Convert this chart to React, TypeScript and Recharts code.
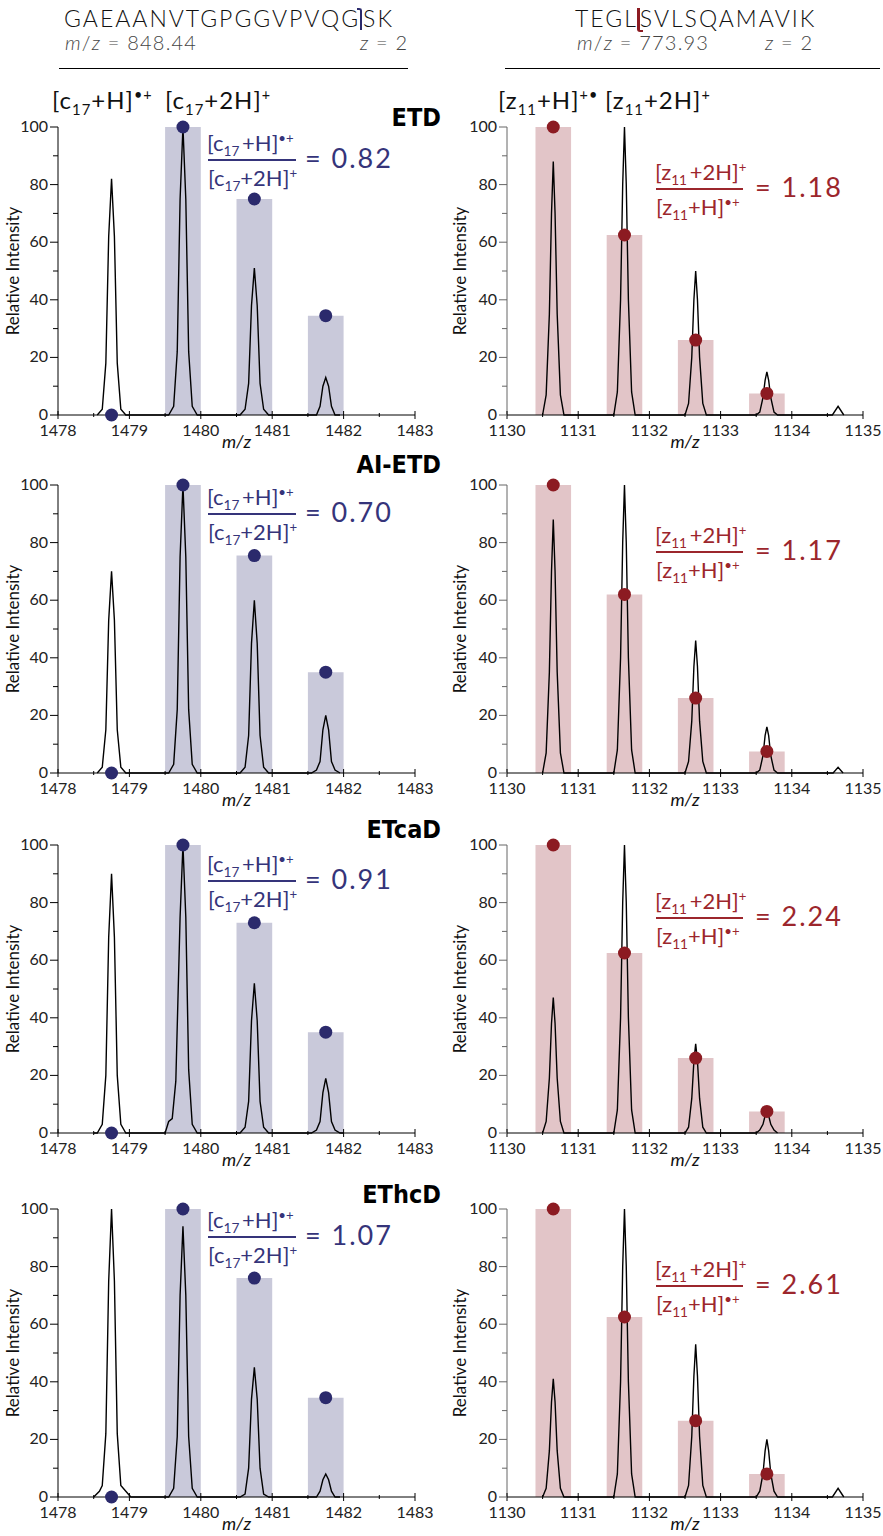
import React from 'react';
import { ComposedChart, Line, Scatter, XAxis, YAxis, ReferenceArea, Label } from 'recharts';

type Pt = [number, number];

const FONT = 'Lato, "Noto Sans", sans-serif';
const NAVY = '#2b2a6c';
const NAVY_TXT = '#35347a';
const RED = '#8c1b22';
const RED_TXT = '#9c262c';
const C_BAR = '#c9c9da';
const Z_BAR = '#e2c5c8';
const BAR_HALF = 0.25;

const METHODS = ['ETD', 'AI-ETD', 'ETcaD', 'EThcD'];
const C_RATIOS = ['0.82', '0.70', '0.91', '1.07'];
const Z_RATIOS = ['1.18', '1.17', '2.24', '2.61'];

const C_X_TICKS = [1478, 1478.5, 1479, 1479.5, 1480, 1480.5, 1481, 1481.5, 1482, 1482.5, 1483];
const Z_X_TICKS = [1130, 1130.5, 1131, 1131.5, 1132, 1132.5, 1133, 1133.5, 1134, 1134.5, 1135];
const Y_TICKS = [0, 10, 20, 30, 40, 50, 60, 70, 80, 90, 100];

const C_CENTERS = [1478.75, 1479.75, 1480.75, 1481.75];
const Z_CENTERS = [1130.65, 1131.65, 1132.65, 1133.65];

// theoretical isotope distributions (bars + dots)
const cTheoETD = [0, 100, 75, 34.5];
const cTheoAI = [0, 100, 75.5, 35];
const cTheoETcaD = [0, 100, 73, 35];
const cTheoEThcD = [0, 100, 76, 34.5];
const zTheoETD = [100, 62.5, 26, 7.5];
const zTheoAI = [100, 62, 26, 7.5];
const zTheoETcaD = [100, 62.5, 26, 7.5];
const zTheoEThcD = [100, 62.5, 26.5, 8];

// observed spectra (m/z, relative intensity)
const cSpecETD: Pt[] = [
  [1478.55, 0], [1478.62, 2], [1478.67, 18], [1478.71, 62], [1478.75, 82], [1478.79, 62], [1478.83, 18], [1478.88, 2], [1478.95, 0],
  [1479.55, 0], [1479.62, 3], [1479.67, 22], [1479.71, 75], [1479.75, 100], [1479.79, 75], [1479.83, 22], [1479.88, 3], [1479.95, 0],
  [1480.55, 0], [1480.62, 2], [1480.67, 11], [1480.71, 38], [1480.75, 51], [1480.79, 38], [1480.83, 11], [1480.88, 2], [1480.95, 0],
  [1481.55, 0], [1481.62, 0], [1481.67, 3], [1481.71, 10], [1481.75, 13], [1481.79, 10], [1481.83, 3], [1481.88, 0], [1481.95, 0],
];
const cSpecAI: Pt[] = [
  [1478.55, 0], [1478.62, 2], [1478.67, 15], [1478.71, 53], [1478.75, 70], [1478.79, 53], [1478.83, 15], [1478.88, 2], [1478.95, 0],
  [1479.55, 0], [1479.62, 3], [1479.67, 22], [1479.71, 75], [1479.75, 100], [1479.79, 75], [1479.83, 22], [1479.88, 3], [1479.95, 0],
  [1480.55, 0], [1480.62, 2], [1480.67, 13], [1480.71, 45], [1480.75, 60], [1480.79, 45], [1480.83, 13], [1480.88, 2], [1480.95, 0],
  [1481.55, 0], [1481.62, 1], [1481.67, 4], [1481.71, 15], [1481.75, 20], [1481.79, 15], [1481.83, 4], [1481.88, 1], [1481.95, 0],
];
const cSpecETcaD: Pt[] = [
  [1478.5, 0],
  [1478.55, 0], [1478.62, 3], [1478.67, 20], [1478.71, 68], [1478.75, 90], [1478.79, 68], [1478.83, 20], [1478.88, 3], [1478.95, 0],
  [1479.5, 0], [1479.55, 4], [1479.6, 5], [1479.65, 18], [1479.71, 75], [1479.75, 100], [1479.79, 75], [1479.83, 22], [1479.88, 3], [1479.95, 0],
  [1480.55, 0], [1480.62, 2], [1480.67, 11], [1480.71, 39], [1480.75, 52], [1480.79, 39], [1480.83, 11], [1480.88, 2], [1480.95, 0],
  [1481.55, 0], [1481.62, 1], [1481.67, 4], [1481.71, 14], [1481.75, 19], [1481.79, 14], [1481.83, 4], [1481.88, 1], [1481.95, 0],
  [1482.0, 0],
];
const cSpecEThcD: Pt[] = [
  [1478.5, 0], [1478.58, 2], [1478.62, 4], [1478.67, 22], [1478.71, 75], [1478.75, 100], [1478.79, 75], [1478.83, 22], [1478.88, 4], [1478.95, 2], [1479.02, 0],
  [1479.55, 0], [1479.62, 3], [1479.67, 21], [1479.71, 70], [1479.75, 94], [1479.79, 70], [1479.83, 21], [1479.88, 3], [1479.95, 0],
  [1480.55, 0], [1480.62, 1], [1480.67, 10], [1480.71, 34], [1480.75, 45], [1480.79, 34], [1480.83, 10], [1480.88, 1], [1480.95, 0],
  [1481.55, 0], [1481.62, 0], [1481.67, 2], [1481.71, 6], [1481.75, 8], [1481.79, 6], [1481.83, 2], [1481.88, 0], [1481.95, 0],
];

const zSpecETD: Pt[] = [
  [1130.5, 0], [1130.55, 7], [1130.595, 35], [1130.625, 70], [1130.65, 88], [1130.675, 70], [1130.705, 35], [1130.75, 7], [1130.8, 0],
  [1131.5, 0], [1131.55, 8], [1131.595, 40], [1131.625, 80], [1131.65, 100], [1131.675, 80], [1131.705, 40], [1131.75, 8], [1131.8, 0],
  [1132.5, 0], [1132.55, 4], [1132.595, 20], [1132.625, 40], [1132.65, 50], [1132.675, 40], [1132.705, 20], [1132.75, 4], [1132.8, 0],
  [1133.5, 0], [1133.55, 1], [1133.595, 6], [1133.625, 12], [1133.65, 15], [1133.675, 12], [1133.705, 6], [1133.75, 1], [1133.8, 0],
  [1134.57, 0], [1134.65, 3], [1134.73, 0],
];
const zSpecAI: Pt[] = [
  [1130.5, 0], [1130.55, 7], [1130.595, 35], [1130.625, 70], [1130.65, 88], [1130.675, 70], [1130.705, 35], [1130.75, 7], [1130.8, 0],
  [1131.5, 0], [1131.55, 8], [1131.595, 40], [1131.625, 80], [1131.65, 100], [1131.675, 80], [1131.705, 40], [1131.75, 8], [1131.8, 0],
  [1132.5, 0], [1132.55, 4], [1132.595, 18], [1132.625, 37], [1132.65, 46], [1132.675, 37], [1132.705, 18], [1132.75, 4], [1132.8, 0],
  [1133.5, 0], [1133.55, 1], [1133.595, 6], [1133.625, 13], [1133.65, 16], [1133.675, 13], [1133.705, 6], [1133.75, 1], [1133.8, 0],
  [1134.58, 0], [1134.65, 2], [1134.72, 0],
];
const zSpecETcaD: Pt[] = [
  [1130.5, 0], [1130.55, 4], [1130.595, 19], [1130.625, 38], [1130.65, 47], [1130.675, 38], [1130.705, 19], [1130.75, 4], [1130.8, 0],
  [1131.5, 0], [1131.55, 8], [1131.595, 40], [1131.625, 80], [1131.65, 100], [1131.675, 80], [1131.705, 40], [1131.75, 8], [1131.8, 0],
  [1132.5, 0], [1132.55, 2], [1132.595, 12], [1132.625, 25], [1132.65, 31], [1132.675, 25], [1132.705, 12], [1132.75, 2], [1132.8, 0],
  [1133.5, 0], [1133.55, 1], [1133.595, 3], [1133.625, 6], [1133.65, 8], [1133.675, 6], [1133.705, 3], [1133.75, 1], [1133.8, 0],
];
const zSpecEThcD: Pt[] = [
  [1130.5, 0], [1130.55, 3], [1130.595, 16], [1130.625, 33], [1130.65, 41], [1130.675, 33], [1130.705, 16], [1130.75, 3], [1130.8, 0],
  [1131.5, 0], [1131.55, 8], [1131.595, 40], [1131.625, 80], [1131.65, 100], [1131.675, 80], [1131.705, 40], [1131.75, 8], [1131.8, 0],
  [1132.5, 0], [1132.55, 4], [1132.595, 21], [1132.625, 42], [1132.65, 53], [1132.675, 42], [1132.705, 21], [1132.75, 4], [1132.8, 0],
  [1133.5, 0], [1133.55, 2], [1133.595, 8], [1133.625, 16], [1133.65, 20], [1133.675, 16], [1133.705, 8], [1133.75, 2], [1133.8, 0],
  [1134.57, 0], [1134.65, 3], [1134.73, 0],
];

const C_SPECTRA = [cSpecETD, cSpecAI, cSpecETcaD, cSpecEThcD];
const Z_SPECTRA = [zSpecETD, zSpecAI, zSpecETcaD, zSpecEThcD];
const C_THEO = [cTheoETD, cTheoAI, cTheoETcaD, cTheoEThcD];
const Z_THEO = [zTheoETD, zTheoAI, zTheoETcaD, zTheoEThcD];

// layout (pixel y of the 100% gridline in each row)
const ROW_TOP = [127, 485, 845, 1209];
const PLOT_H = 288;
const X_AXIS_H = 38;
const TITLE_Y = [118, 465, 830, 1195];
const C_FRAC_Y = [160, 514, 881, 1237];
const Z_FRAC_Y = [189, 552, 918, 1286];

const Sub = ({ children }: any) => (
  <span style={{ fontSize: '0.62em', position: 'relative', top: '0.38em' }}>{children}</span>
);
const Sup = ({ children }: any) => (
  <span style={{ fontSize: '0.6em', position: 'relative', top: '-0.6em' }}>{children}</span>
);
const Ion = ({ letter, num, add, charge, gap }: any) => (
  <span>
    [{letter}
    <Sub>{num}</Sub>
    {gap ? '\u2009' : ''}
    {add}]<Sup>{charge}</Sup>
  </span>
);

const XTick = (props: any) => {
  const { x, y, payload } = props;
  const v = payload.value;
  const major = Number.isInteger(v);
  return (
    <g>
      <line x1={x} x2={x} y1={y - (major ? 4 : 2)} y2={y + (major ? 4 : 2)} stroke="#000" strokeWidth={1} />
      {major && (
        <text x={x} y={y + 21} textAnchor="middle" fontSize={16} fill="#222" fontFamily={FONT}>
          {v}
        </text>
      )}
    </g>
  );
};

const makeYTick = (stroke: string) => (props: any) => {
  const { x, y, payload } = props;
  const v = payload.value;
  const major = v % 20 === 0;
  return (
    <g>
      <line x1={x - (major ? 8 : 5)} x2={x} y1={y} y2={y} stroke={stroke} strokeWidth={1} />
      {major && (
        <text x={x - 10} y={y + 5} textAnchor="end" fontSize={16} fill="#222" fontFamily={FONT}>
          {v}
        </text>
      )}
    </g>
  );
};

function Panel({ side, row }: { side: 'c' | 'z'; row: number }) {
  const isC = side === 'c';
  const centers = isC ? C_CENTERS : Z_CENTERS;
  const theo = isC ? C_THEO[row] : Z_THEO[row];
  const spectrum = isC ? C_SPECTRA[row] : Z_SPECTRA[row];
  const dotColor = isC ? NAVY : RED;
  const barFill = isC ? C_BAR : Z_BAR;
  const yW = isC ? 58 : 67;
  const width = isC ? 437 : 445;
  const yStroke = isC ? '#000' : '#666';
  const lineData = spectrum.map(([x, y]) => ({ x, y }));
  const dots = centers.map((x, i) => ({ x, y: theo[i] }));
  const labelOffsetX = isC ? 12 : 19;
  return (
    <div style={{ position: 'absolute', left: isC ? 0 : 440, top: ROW_TOP[row] - 10 }}>
      <ComposedChart width={width} height={10 + PLOT_H + X_AXIS_H} margin={{ top: 10, right: 22, bottom: 0, left: 0 }}>
        <XAxis
          type="number"
          dataKey="x"
          domain={isC ? [1478, 1483] : [1130, 1135]}
          ticks={isC ? C_X_TICKS : Z_X_TICKS}
          interval={0}
          allowDataOverflow
          height={X_AXIS_H}
          tickSize={0}
          tickMargin={0}
          tickLine={false}
          axisLine={{ stroke: '#000', strokeWidth: 1 }}
          tick={(p: any) => <XTick {...p} />}
        >
          <Label
            content={(lp: any) => {
              const vb = lp.viewBox || {};
              return (
                <text
                  x={vb.x + vb.width / 2}
                  y={vb.y + 33}
                  textAnchor="middle"
                  fontSize={18}
                  fontStyle="italic"
                  fill="#111"
                  fontFamily={FONT}
                >
                  m/z
                </text>
              );
            }}
          />
        </XAxis>
        <YAxis
          type="number"
          dataKey="y"
          domain={[0, 100]}
          ticks={Y_TICKS}
          interval={0}
          width={yW}
          tickSize={0}
          tickMargin={0}
          tickLine={false}
          axisLine={{ stroke: yStroke, strokeWidth: 1 }}
          tick={makeYTick(yStroke)}
        >
          <Label
            content={(lp: any) => {
              const vb = lp.viewBox || {};
              const cx = vb.x + labelOffsetX;
              const cy = vb.y + vb.height / 2;
              return (
                <text
                  x={cx}
                  y={cy}
                  transform={`rotate(-90, ${cx}, ${cy})`}
                  textAnchor="middle"
                  dominantBaseline="central"
                  fontSize={17}
                  fill="#111"
                  fontFamily={FONT}
                >
                  Relative Intensity
                </text>
              );
            }}
          />
        </YAxis>
        {centers.map((c, i) =>
          theo[i] > 0 ? (
            <ReferenceArea
              key={`bar${i}`}
              x1={c - BAR_HALF}
              x2={c + BAR_HALF}
              y1={0}
              y2={theo[i]}
              fill={barFill}
              fillOpacity={1}
              stroke="none"
              ifOverflow="visible"
            />
          ) : null
        )}
        <Line
          data={lineData}
          dataKey="y"
          type="linear"
          stroke="#000"
          strokeWidth={1.4}
          dot={false}
          activeDot={false}
          isAnimationActive={false}
        />
        <Scatter
          data={dots}
          dataKey="y"
          fill={dotColor}
          isAnimationActive={false}
          shape={(p: any) => <circle cx={p.cx} cy={p.cy} r={6.5} fill={dotColor} />}
        />
      </ComposedChart>
    </div>
  );
}

function Fraction({ x, lineY, color, num, den, value, lineW, valueDx }: any) {
  const common: React.CSSProperties = {
    position: 'absolute',
    whiteSpace: 'nowrap',
    color,
    fontSize: 22,
    lineHeight: '26px',
  };
  return (
    <>
      <div style={{ ...common, left: x, top: lineY - 17 - 13 }}>{num}</div>
      <div style={{ position: 'absolute', left: x + 1, top: lineY - 1, width: lineW, height: 1.5, background: color }} />
      <div style={{ ...common, left: x + 1, top: lineY + 18 - 13 }}>{den}</div>
      <div style={{ ...common, left: x + valueDx, top: lineY - 2 - 16, fontSize: 27, lineHeight: '32px', letterSpacing: 2 }}>
        = {value}
      </div>
    </>
  );
}

export default function App() {
  const seqStyle: React.CSSProperties = {
    position: 'absolute',
    whiteSpace: 'nowrap',
    fontSize: 23,
    fontWeight: 300,
    letterSpacing: 2,
    color: '#111',
    lineHeight: '26px',
  };
  const mzStyle: React.CSSProperties = {
    position: 'absolute',
    whiteSpace: 'nowrap',
    fontSize: 20,
    fontWeight: 300,
    letterSpacing: 1.2,
    color: '#444',
    lineHeight: '24px',
  };
  const ionStyle: React.CSSProperties = {
    position: 'absolute',
    whiteSpace: 'nowrap',
    fontSize: 24,
    letterSpacing: 1,
    color: '#111',
    lineHeight: '28px',
  };
  const titleStyle: React.CSSProperties = {
    position: 'absolute',
    whiteSpace: 'nowrap',
    fontSize: 25,
    fontWeight: 700,
    fontFamily: '"Liberation Sans Narrow", "DejaVu Sans Condensed", sans-serif',
    color: '#000',
    lineHeight: '28px',
    width: 120,
    textAlign: 'right',
  };
  return (
    <div
      style={{
        position: 'absolute',
        left: 0,
        top: 0,
        width: 883,
        height: 1536,
        background: '#fff',
        fontFamily: FONT,
        overflow: 'hidden',
      }}
    >
      {/* left header */}
      <div style={{ ...seqStyle, left: 64, top: 5 }}>
        GAEAANVTGPGGVPVQG
        <span
          style={{
            display: 'inline-block',
            width: 3,
            height: 20,
            borderTop: `2px solid ${NAVY}`,
            borderRight: `2px solid ${NAVY}`,
            borderTopRightRadius: 3,
            verticalAlign: -3,
            margin: '0 1px 0 -3px',
          }}
        />
        SK
      </div>
      <div style={{ ...mzStyle, left: 65, top: 30 }}>
        <i>m</i>/<i>z</i> = 848.44
      </div>
      <div style={{ ...mzStyle, left: 360, top: 30 }}>
        <i>z</i> = 2
      </div>
      <div style={{ position: 'absolute', left: 59, top: 68, width: 349, height: 1, background: '#000' }} />

      {/* right header */}
      <div style={{ ...seqStyle, left: 575, top: 5 }}>
        TEGL
        <span
          style={{
            display: 'inline-block',
            width: 3,
            height: 22,
            borderLeft: `3px solid ${RED}`,
            borderBottom: `2px solid ${RED}`,
            borderBottomLeftRadius: 3,
            verticalAlign: -5,
            margin: '0 -3px 0 -1px',
          }}
        />
        SVLSQAMAVIK
      </div>
      <div style={{ ...mzStyle, left: 577, top: 30 }}>
        <i>m</i>/<i>z</i> = 773.93
      </div>
      <div style={{ ...mzStyle, left: 765, top: 30 }}>
        <i>z</i> = 2
      </div>
      <div style={{ position: 'absolute', left: 505, top: 68, width: 375, height: 1, background: '#000' }} />

      {/* ion labels */}
      <div style={{ ...ionStyle, left: 52, top: 86 }}>
        <Ion letter="c" num="17" add="+H" charge={'\u2022+'} />
      </div>
      <div style={{ ...ionStyle, left: 165, top: 86 }}>
        <Ion letter="c" num="17" add="+2H" charge="+" />
      </div>
      <div style={{ ...ionStyle, left: 498, top: 86 }}>
        <Ion letter="z" num="11" add="+H" charge={'+\u2022'} />
      </div>
      <div style={{ ...ionStyle, left: 605, top: 86 }}>
        <Ion letter="z" num="11" add="+2H" charge="+" />
      </div>

      {METHODS.map((m, r) => (
        <React.Fragment key={m}>
          <Panel side="c" row={r} />
          <Panel side="z" row={r} />
          <div style={{ ...titleStyle, left: 441 - 120, top: TITLE_Y[r] - 14 }}>{m}</div>
          <Fraction
            x={207}
            lineY={C_FRAC_Y[r]}
            color={NAVY_TXT}
            lineW={88}
            valueDx={98}
            value={C_RATIOS[r]}
            num={<Ion letter="c" num="17" add="+H" charge={'\u2022+'} gap />}
            den={<Ion letter="c" num="17" add="+2H" charge="+" />}
          />
          <Fraction
            x={655}
            lineY={Z_FRAC_Y[r]}
            color={RED_TXT}
            lineW={87}
            valueDx={100}
            value={Z_RATIOS[r]}
            num={<Ion letter="z" num="11" add="+2H" charge="+" gap />}
            den={<Ion letter="z" num="11" add="+H" charge={'\u2022+'} />}
          />
        </React.Fragment>
      ))}
    </div>
  );
}
